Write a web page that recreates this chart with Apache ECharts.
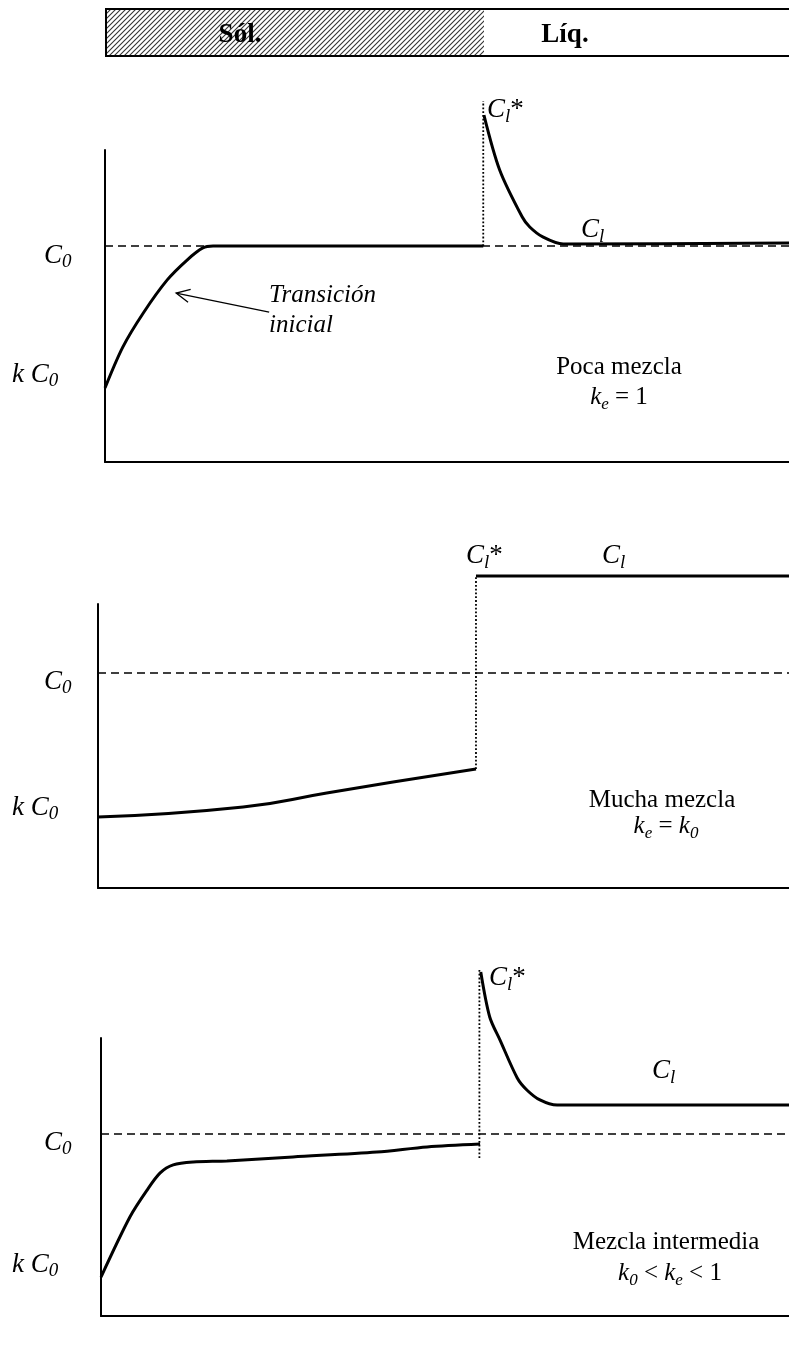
<!DOCTYPE html>
<html>
<head>
<meta charset="utf-8">
<script src="https://cdn.jsdelivr.net/npm/echarts@6/dist/echarts.min.js"></script>
<style>
  html, body { margin: 0; padding: 0; background: #fff; }
  #chart { width: 789px; height: 1365px; }
</style>
</head>
<body>
<div id="chart"></div>
<script>
// Perfiles de concentración de soluto a lo largo de la muestra.
// Eje x: posición (0–100); eje y: concentración relativa C / C0.

// --- Poca mezcla (ke = 1) ---
const pocaSolido   = [[0, 0.343], [2.6, 0.532], [5.6, 0.690], [9.1, 0.843], [12.0, 0.935], [14.3, 0.991], [15.8, 1.0], [55.3, 1.0]];
const pocaLiquido  = [[55.4, 1.606], [57.7, 1.352], [61.0, 1.134], [62.1, 1.088], [64.0, 1.042], [67.0, 1.009], [100, 1.014]];
const pocaInterfaz = [[55.3, 1.0], [55.3, 1.671]];

// --- Mucha mezcla (ke = k0) ---
const muchaSolido   = [[0, 0.330], [21.0, 0.377], [33.1, 0.442], [42.7, 0.493], [54.7, 0.553]];
const muchaLiquido  = [[54.7, 1.451], [100, 1.451]];
const muchaInterfaz = [[54.7, 0.553], [54.7, 1.451]];

// --- Mezcla intermedia (k0 < ke < 1) ---
const interSolido   = [[0, 0.214], [4.2, 0.544], [6.7, 0.692], [8.6, 0.786], [10.5, 0.830], [13.4, 0.846], [18.3, 0.852], [27.9, 0.874], [40.1, 0.901], [47.4, 0.929], [55.1, 0.945]];
const interLiquido  = [[55.2, 1.890], [56.5, 1.643], [58.0, 1.516], [60.5, 1.308], [61.9, 1.242], [63.8, 1.187], [66.3, 1.159], [100, 1.159]];
const interInterfaz = [[55.0, 0.868], [55.0, 1.912]];

// Nivel de referencia C0
const nivelC0 = [[0, 1], [100, 1]];

// Flecha "Transición inicial" (cola -> punta), en coordenadas del primer panel
const flechaTransicion = [[24.0, 0.694], [10.4, 0.782]];

const FONT = '"Liberation Serif", "Times New Roman", serif';

const chart = echarts.init(document.getElementById('chart'), null, { renderer: 'canvas' });

const grids = [
  { left: 105, top: 150, width: 684, height: 312 },
  { left: 98,  top: 604, width: 691, height: 284 },
  { left: 101, top: 1038, width: 688, height: 278 }
];
const yMax = [312 / 216, 284 / 215, 278 / 182];

function ejeX(i) {
  return {
    type: 'value', gridIndex: i, min: 0, max: 100,
    axisLine: { show: true, onZero: false, lineStyle: { color: '#000', width: 2 } },
    axisTick: { show: false }, axisLabel: { show: false }, splitLine: { show: false }
  };
}
function ejeY(i) {
  return {
    type: 'value', gridIndex: i, min: 0, max: yMax[i],
    axisLine: { show: true, onZero: false, lineStyle: { color: '#000', width: 2 } },
    axisTick: { show: false }, axisLabel: { show: false }, splitLine: { show: false }
  };
}

function curva(i, data, smooth) {
  return {
    type: 'line', xAxisIndex: i, yAxisIndex: i, data: data,
    smooth: smooth, symbol: 'none', clip: false, silent: true,
    lineStyle: { color: '#000', width: 3 }, z: 5
  };
}
function discontinua(i) {
  return {
    type: 'line', xAxisIndex: i, yAxisIndex: i, data: nivelC0,
    symbol: 'none', clip: false, silent: true,
    lineStyle: { color: '#000', width: 1.7, type: [8, 5] }, z: 3
  };
}
function punteada(i, data) {
  return {
    type: 'line', xAxisIndex: i, yAxisIndex: i, data: data,
    symbol: 'none', clip: false, silent: true,
    lineStyle: { color: '#000', width: 1.8, type: [1.8, 2] }, z: 4
  };
}

chart.setOption({
  animation: false,
  backgroundColor: '#fff',
  grid: grids,
  xAxis: [ejeX(0), ejeX(1), ejeX(2)],
  yAxis: [ejeY(0), ejeY(1), ejeY(2)],
  series: [
    discontinua(0), punteada(0, pocaInterfaz), curva(0, pocaSolido, 0.3), curva(0, pocaLiquido, 0.3),
    discontinua(1), punteada(1, muchaInterfaz), curva(1, muchaSolido, 0.5), curva(1, muchaLiquido, false),
    discontinua(2), punteada(2, interInterfaz), curva(2, interSolido, 0.3), curva(2, interLiquido, 0.3)
  ]
});

// ---------- Textos ----------
const ctx = document.createElement('canvas').getContext('2d');
function fuente(p) {
  return (p.it ? 'italic ' : '') + (p.b ? 'bold ' : '') + p.fs + 'px ' + FONT;
}
// Línea de texto compuesta por fragmentos (para subíndices); y = línea base
function texto(x, base, partes, align) {
  const anchos = partes.map(p => { ctx.font = fuente(p); return ctx.measureText(p.t).width; });
  const total = anchos.reduce((a, b) => a + b, 0);
  let cx = align === 'center' ? x - total / 2 : x;
  const out = [];
  partes.forEach((p, k) => {
    out.push({
      type: 'text', x: cx, y: base + (p.dy || 0) - 0.305 * p.fs, silent: true, z: 20,
      style: {
        text: p.t, fill: '#000', fontFamily: FONT, fontSize: p.fs,
        fontStyle: p.it ? 'italic' : 'normal', fontWeight: p.b ? 'bold' : 'normal',
        align: 'left', verticalAlign: 'middle'
      }
    });
    cx += anchos[k];
  });
  return out;
}
const I = (t, fs, dy) => ({ t: t, fs: fs || 27, it: true, dy: dy || 0 });
const R = (t, fs, dy) => ({ t: t, fs: fs || 25, it: false, dy: dy || 0 });
const C0 = [I('C', 27), I('0', 19, 4)];
const kC0 = [I('k ', 27), I('C', 27), I('0', 19, 4)];
const Cl = [I('C', 27), I('l', 19, 5)];
const ClStar = [I('C', 27), I('l', 19, 5), R('*', 27)];

let textos = [];
// Panel 1
textos = textos.concat(
  texto(44, 264, C0), texto(12, 383, kC0),
  texto(487, 118, ClStar), texto(581, 238, Cl),
  texto(269, 303, [I('Transición', 25)]), texto(269, 333, [I('inicial', 25)]),
  texto(619, 375, [R('Poca mezcla', 25)], 'center'),
  texto(619, 405, [I('k', 25), I('e', 17, 5), R(' = 1', 25)], 'center')
);
// Panel 2
textos = textos.concat(
  texto(44, 690, C0), texto(12, 816, kC0),
  texto(466, 564, ClStar), texto(602, 564, Cl),
  texto(662, 808, [R('Mucha mezcla', 25)], 'center'),
  texto(666, 834, [I('k', 25), I('e', 17, 5), R(' = ', 25), I('k', 25), I('0', 17, 5)], 'center')
);
// Panel 3
textos = textos.concat(
  texto(44, 1151, C0), texto(12, 1273, kC0),
  texto(489, 986, ClStar), texto(652, 1079, Cl),
  texto(666, 1250, [R('Mezcla intermedia', 25)], 'center'),
  texto(670, 1281, [I('k', 25), I('0', 17, 5), R(' < ', 25), I('k', 25), I('e', 17, 5), R(' < 1', 25)], 'center')
);

// ---------- Barra superior Sól. / Líq. ----------
const tile = document.createElement('canvas');
tile.width = 5; tile.height = 5;
const tctx = tile.getContext('2d');
tctx.strokeStyle = '#333';
tctx.lineWidth = 1.1;
tctx.beginPath();
tctx.moveTo(-1, 6); tctx.lineTo(6, -1);
tctx.moveTo(-1, 1); tctx.lineTo(1, -1);
tctx.moveTo(4, 6); tctx.lineTo(6, 4);
tctx.stroke();

const barra = [
  { type: 'rect', shape: { x: 106, y: 9, width: 378, height: 47 }, style: { fill: { image: tile, repeat: 'repeat' } }, z: 1, silent: true },
  { type: 'rect', shape: { x: 106, y: 9, width: 690, height: 47 }, style: { fill: 'none', stroke: '#000', lineWidth: 2 }, z: 2, silent: true }
];
textos = textos.concat(
  texto(240, 43, [{ t: 'Sól.', fs: 27, b: true }], 'center'),
  texto(565, 43, [{ t: 'Líq.', fs: 27, b: true }], 'center')
);

// ---------- Flecha ----------
const cola = chart.convertToPixel({ gridIndex: 0 }, flechaTransicion[0]);
const punta = chart.convertToPixel({ gridIndex: 0 }, flechaTransicion[1]);
const ang = Math.atan2(cola[1] - punta[1], cola[0] - punta[0]);
const L = 15, A = 0.45;
const flecha = [
  { type: 'line', shape: { x1: cola[0], y1: cola[1], x2: punta[0], y2: punta[1] }, style: { stroke: '#000', lineWidth: 1.3 }, z: 10, silent: true },
  { type: 'polyline', shape: { points: [
      [punta[0] + L * Math.cos(ang + A), punta[1] + L * Math.sin(ang + A)],
      [punta[0], punta[1]],
      [punta[0] + L * Math.cos(ang - A), punta[1] + L * Math.sin(ang - A)]
    ] }, style: { stroke: '#000', lineWidth: 1.3, fill: 'none' }, z: 10, silent: true }
];

chart.setOption({ graphic: { elements: barra.concat(flecha, textos) } });
</script>
</body>
</html>
